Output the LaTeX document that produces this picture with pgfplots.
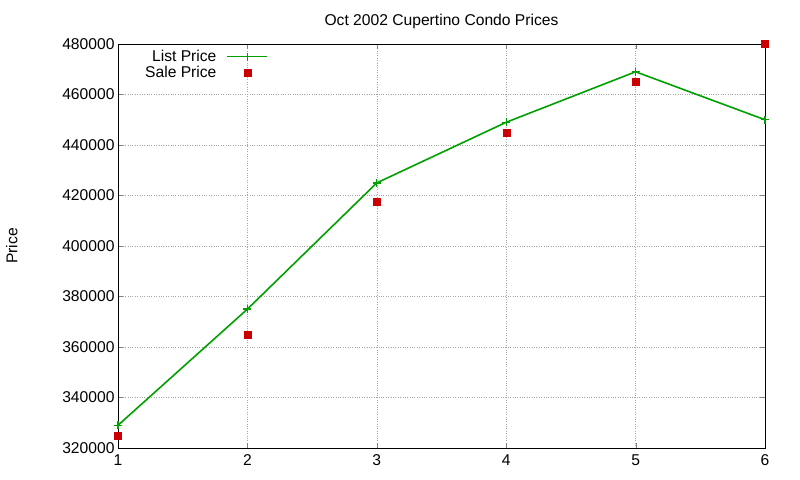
\documentclass[border=0pt]{standalone}
\usepackage{pgfplots}
\pgfplotsset{compat=1.18}
\usepackage{fontspec}
\setmainfont{Liberation Sans}
\definecolor{listgreen}{HTML}{00A000}
\definecolor{salered}{HTML}{CC0000}
\begin{document}
\begin{tikzpicture}[font=\fontsize{15.7}{18}\selectfont]
\begin{axis}[
    scale only axis,
    width=647bp, height=404bp,
    xmin=1, xmax=6, ymin=320000, ymax=480000,
    xtick={1,2,3,4,5,6},
    ytick={320000,340000,...,480000},
    scaled y ticks=false,
    /pgf/number format/.cd, fixed, precision=0, set thousands separator={}, assume math mode=true,
    /pgfplots/.cd,
    grid=major,
    major grid style={gray!70, dotted, line width=0.6pt},
    tick align=inside,
    major tick length=5bp,
    axis line style={black, line width=0.6pt},
    xticklabel style={yshift=-3bp},
    title={Oct 2002 Cupertino Condo Prices},
    title style={at={(0.5,1)}, anchor=south, yshift=6bp},
    ylabel={Price},
    ylabel style={at={(axis description cs:-0.164,0.5)}, anchor=center},
    legend cell align=right,
    legend plot pos=right,
    legend style={draw=none, fill=none, at={(rel axis cs:0.034,0.995)}, anchor=north west,
        row sep=-1bp},
    legend image code/.code={%
        \path (0bp,0bp);
        \draw[#1, mark repeat=2, mark phase=2] plot coordinates {(8bp,0bp) (28bp,0bp) (48bp,0bp)};},
    clip=false,
]
\addplot[listgreen, line width=1.6pt, mark=+, mark size=4bp, mark options={line width=1.4pt}]
    coordinates {(1,329000) (2,375000) (3,425000) (4,449000) (5,469000) (6,450000)};
\addlegendentry{List Price}
\addplot[only marks, mark=square*, mark size=3.5bp, color=salered]
    coordinates {(1,325000) (2,365000) (3,417500) (4,445000) (5,465000) (6,480000)};
\addlegendentry{Sale Price}
\end{axis}
\useasboundingbox (-118bp,-32bp) rectangle (682bp,448bp);
\end{tikzpicture}
\end{document}
